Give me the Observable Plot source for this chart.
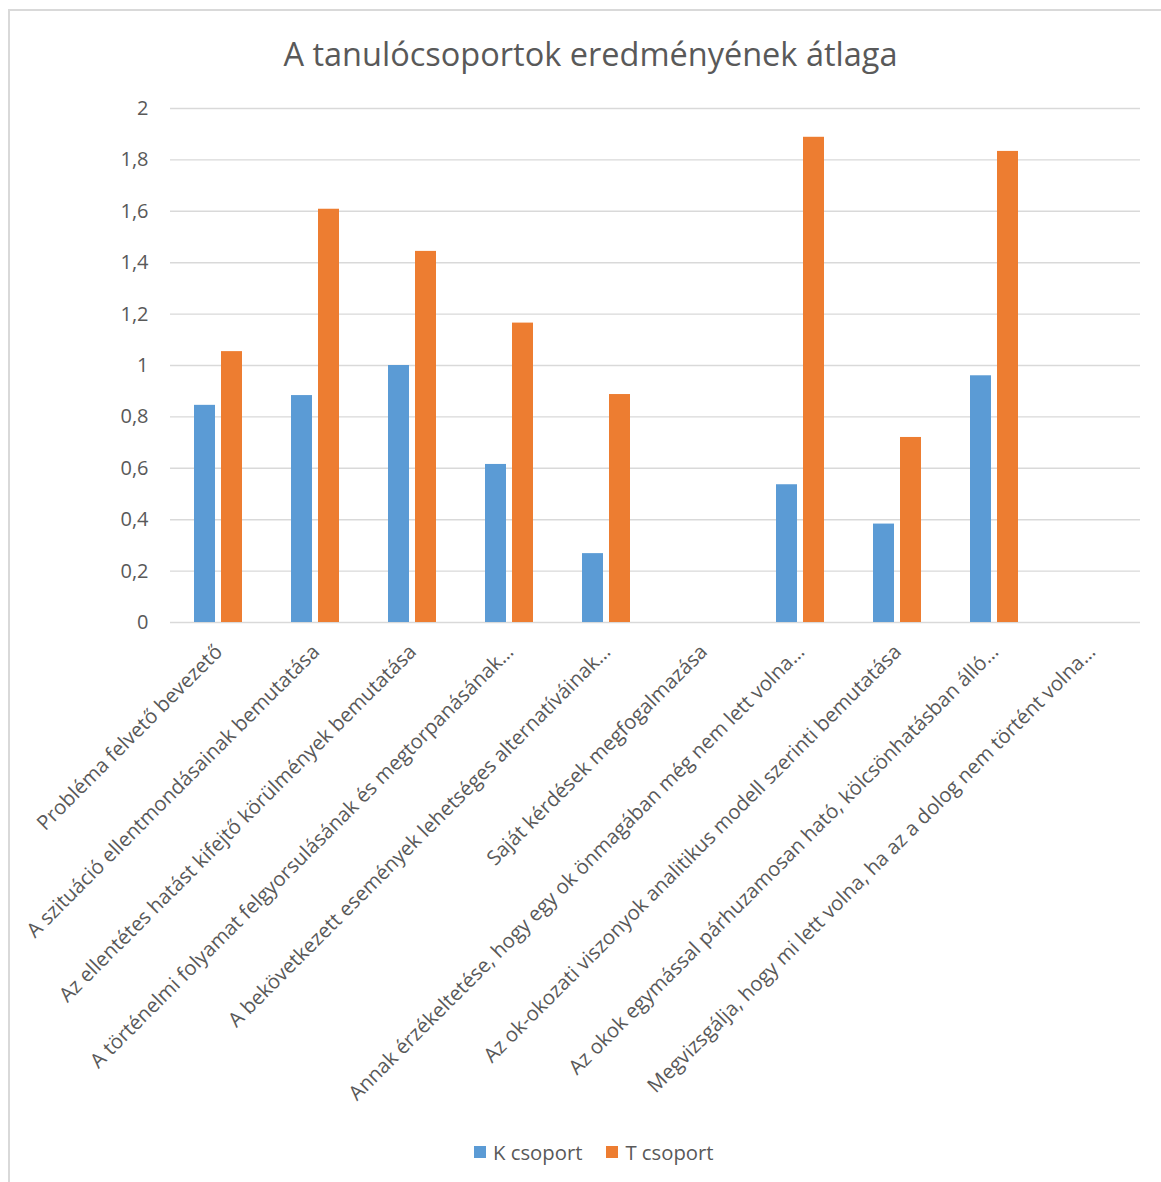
<!DOCTYPE html>
<html>
<head>
<meta charset="utf-8">
<script src="https://cdn.jsdelivr.net/npm/d3@7"></script>
<script src="https://cdn.jsdelivr.net/npm/@observablehq/plot@0.6"></script>
<style>
  html, body { margin: 0; padding: 0; background: #fff; }
  #wrap { position: relative; width: 1161px; height: 1182px; font-family: "Open Sans", sans-serif; color: #595959; overflow: hidden; }
  #frame { position: absolute; left: 8px; top: 9px; width: 1200px; height: 1300px; border-top: 2px solid #d9d9d9; border-left: 2px solid #d9d9d9; }
  #title { position: absolute; top: 32px; left: 0; width: 1181px; text-align: center; font-size: 32.5px; font-weight: 400; color: #595959; line-height: 44px; }
  #chart { position: absolute; top: 90px; left: 0; }
  #legend { position: absolute; top: 1137px; left: 474px; display: flex; align-items: center; font-size: 20.3px; color: #595959; line-height: 30px; }
  .sw { display: inline-block; width: 12px; height: 12px; margin-right: 7px; }
  .item { display: flex; align-items: center; margin-right: 24px; }
</style>
</head>
<body>
<div id="wrap">
  <div id="frame"></div>
  <div id="title"></div>
  <div id="chart"></div>
  <div id="legend"></div>
</div>
<script>
const chartTitle = "A tanulócsoportok eredményének átlaga";
const categories = [
  "Probléma felvető bevezető",
  "A szituáció ellentmondásainak bemutatása",
  "Az ellentétes hatást kifejtő körülmények bemutatása",
  "A történelmi folyamat felgyorsulásának és megtorpanásának…",
  "A bekövetkezett események lehetséges alternatíváinak…",
  "Saját kérdések megfogalmazása",
  "Annak érzékeltetése, hogy egy ok önmagában még nem lett volna…",
  "Az ok-okozati viszonyok analitikus modell szerinti bemutatása",
  "Az okok egymással párhuzamosan ható, kölcsönhatásban álló…",
  "Megvizsgálja, hogy mi lett volna, ha az a dolog nem történt volna…"
];
const seriesNames = ["K csoport", "T csoport"];
const seriesColors = ["#5B9BD5", "#ED7D31"];
const kValues = [0.845, 0.883, 1.0, 0.615, 0.268, 0, 0.536, 0.383, 0.96, 0];
const tValues = [1.054, 1.608, 1.444, 1.165, 0.887, 0, 1.888, 0.72, 1.833, 0];
const yTicks = [0, 0.2, 0.4, 0.6, 0.8, 1, 1.2, 1.4, 1.6, 1.8, 2];

const data = [];
categories.forEach((c, i) => {
  data.push({category: c, series: seriesNames[0], value: kValues[i]});
  data.push({category: c, series: seriesNames[1], value: tValues[i]});
});

document.getElementById("title").textContent = chartTitle;

const W = 1161, H = 1040;
const chart = Plot.plot({
  width: W,
  height: H,
  marginTop: 18,
  marginBottom: H - 532,
  marginLeft: 165,
  marginRight: 17,
  style: { fontFamily: "'Open Sans', sans-serif", color: "#595959", background: "transparent" },
  fx: { domain: categories, padding: 0, label: null },
  x: { domain: seriesNames, paddingInner: 0.214, paddingOuter: 0.85, axis: null },
  y: { domain: [0, 2], label: null },
  color: { domain: seriesNames, range: seriesColors },
  marks: [
    Plot.ruleY(yTicks, { stroke: "#d9d9d9", strokeWidth: 1.4 }),
    Plot.barY(data, { fx: "category", x: "series", y: "value", fill: "series" }),
    Plot.axisY(yTicks, {
      tickSize: 0, tickPadding: 22, fontSize: 20, label: null,
      tickFormat: d => String(d).replace(".", ",")
    }),
    Plot.axisFx({
      anchor: "bottom", tickRotate: -45, tickSize: 0, tickPadding: 26,
      fontSize: 20.3, label: null
    })
  ]
});
document.getElementById("chart").appendChild(chart);

const legend = document.getElementById("legend");
seriesNames.forEach((s, i) => {
  const item = document.createElement("div");
  item.className = "item";
  const sw = document.createElement("span");
  sw.className = "sw";
  sw.style.background = seriesColors[i];
  item.appendChild(sw);
  item.appendChild(document.createTextNode(s));
  legend.appendChild(item);
});
</script>
</body>
</html>
